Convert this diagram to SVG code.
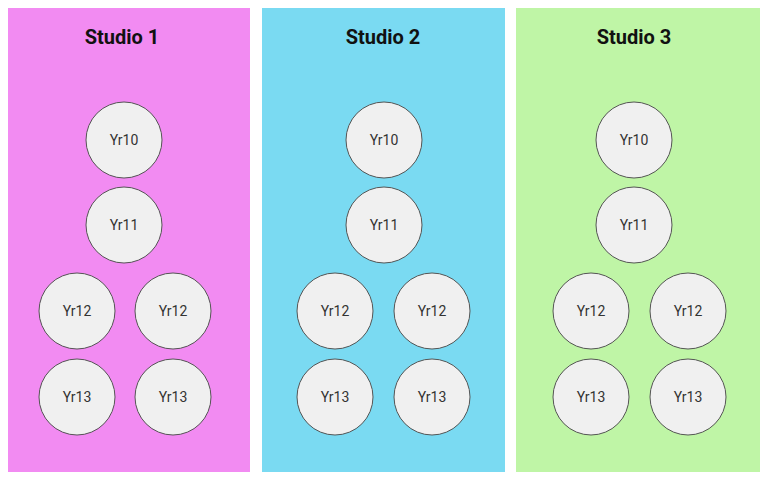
<svg xmlns="http://www.w3.org/2000/svg" width="768" height="482" viewBox="0 0 768 482">
<style>
.t{font-family:Roboto,"Liberation Sans",sans-serif;font-weight:bold;font-size:20px;fill:#111;text-anchor:middle}
.n circle{fill:#f0f0f0;stroke:#555;stroke-width:1}
.n text{font-family:Roboto,"Liberation Sans",sans-serif;font-size:14px;fill:#333;text-anchor:middle;dominant-baseline:central}
</style>
<rect width="768" height="482" fill="#fff"/>
<g id="studio1"><rect x="8" y="8" width="242" height="464" fill="#f28bf2"/><text class="t" x="122" y="44">Studio 1</text></g>
<g id="studio2"><rect x="262" y="8" width="243" height="464" fill="#7adaf2"/><text class="t" x="383" y="44">Studio 2</text></g>
<g id="studio3"><rect x="516" y="8" width="244" height="464" fill="#bff5a6"/><text class="t" x="634" y="44">Studio 3</text></g>
<g id="connectors"></g>
<g id="s1-yr10" class="n"><circle cx="124" cy="140" r="38"/><text x="124" y="140">Yr10</text></g>
<g id="s1-yr11" class="n"><circle cx="124" cy="225" r="38"/><text x="124" y="225">Yr11</text></g>
<g id="s1-yr12a" class="n"><circle cx="77" cy="311" r="38"/><text x="77" y="311">Yr12</text></g>
<g id="s1-yr12b" class="n"><circle cx="173" cy="311" r="38"/><text x="173" y="311">Yr12</text></g>
<g id="s1-yr13a" class="n"><circle cx="77" cy="397" r="38"/><text x="77" y="397">Yr13</text></g>
<g id="s1-yr13b" class="n"><circle cx="173" cy="397" r="38"/><text x="173" y="397">Yr13</text></g>
<g id="s2-yr10" class="n"><circle cx="384" cy="140" r="38"/><text x="384" y="140">Yr10</text></g>
<g id="s2-yr11" class="n"><circle cx="384" cy="225" r="38"/><text x="384" y="225">Yr11</text></g>
<g id="s2-yr12a" class="n"><circle cx="335" cy="311" r="38"/><text x="335" y="311">Yr12</text></g>
<g id="s2-yr12b" class="n"><circle cx="432" cy="311" r="38"/><text x="432" y="311">Yr12</text></g>
<g id="s2-yr13a" class="n"><circle cx="335" cy="397" r="38"/><text x="335" y="397">Yr13</text></g>
<g id="s2-yr13b" class="n"><circle cx="432" cy="397" r="38"/><text x="432" y="397">Yr13</text></g>
<g id="s3-yr10" class="n"><circle cx="634" cy="140" r="38"/><text x="634" y="140">Yr10</text></g>
<g id="s3-yr11" class="n"><circle cx="634" cy="225" r="38"/><text x="634" y="225">Yr11</text></g>
<g id="s3-yr12a" class="n"><circle cx="591" cy="311" r="38"/><text x="591" y="311">Yr12</text></g>
<g id="s3-yr12b" class="n"><circle cx="688" cy="311" r="38"/><text x="688" y="311">Yr12</text></g>
<g id="s3-yr13a" class="n"><circle cx="591" cy="397" r="38"/><text x="591" y="397">Yr13</text></g>
<g id="s3-yr13b" class="n"><circle cx="688" cy="397" r="38"/><text x="688" y="397">Yr13</text></g>
</svg>
